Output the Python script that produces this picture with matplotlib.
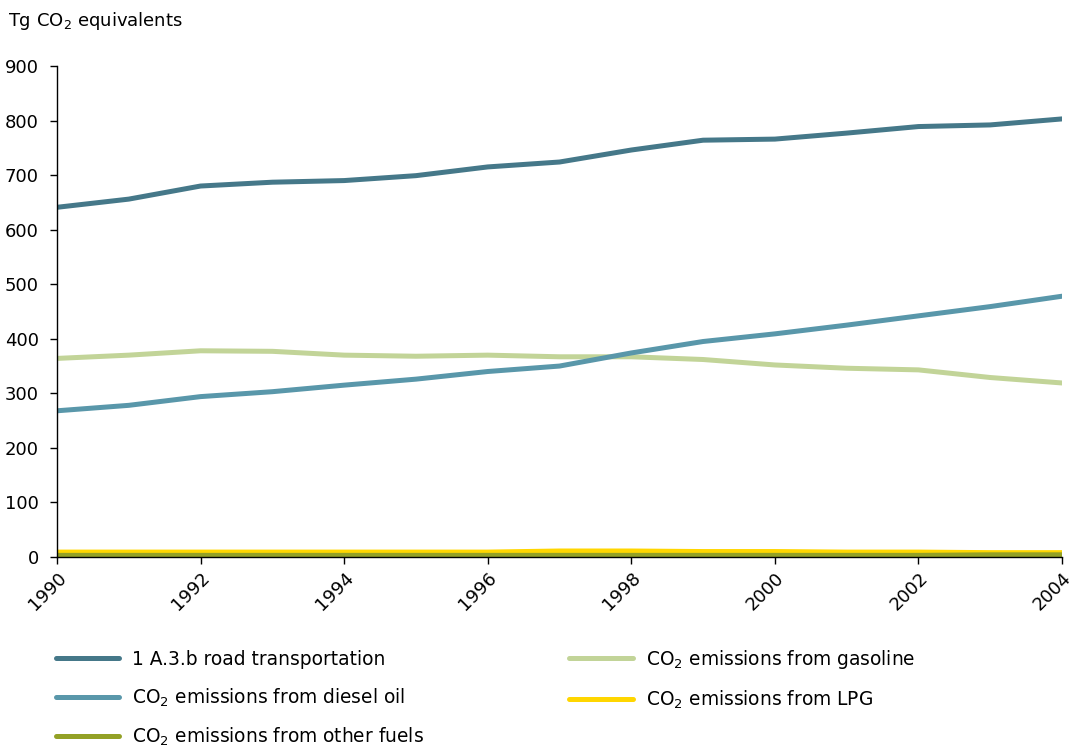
import numpy as np
import matplotlib.pyplot as plt

# Data (Tg CO2 equivalents)
years = list(range(1990, 2005))
road = [641, 656, 680, 687, 690, 699, 715, 724, 746, 764, 766, 777, 789, 792, 803]
gasoline = [364, 370, 378, 377, 370, 368, 370, 367, 367, 362, 352, 346, 343, 329, 319]
diesel = [268, 278, 294, 303, 315, 326, 340, 350, 374, 395, 409, 425, 442, 459, 478]
lpg = [9, 9, 9, 9, 9, 9, 9, 11, 11, 10, 10, 9, 9, 8, 8]
other = [3, 3, 3, 3, 3, 3, 3, 3, 3, 3, 3, 3, 3, 4, 4]

labels = ['1 A.3.b road transportation',
          r'CO$_2$ emissions from gasoline',
          r'CO$_2$ emissions from diesel oil',
          r'CO$_2$ emissions from LPG',
          r'CO$_2$ emissions from other fuels']
colors = ['#457889', '#c2d498', '#5997aa', '#ffd600', '#93a126']

plt.rcParams['font.family'] = ['DejaVu Sans']
fs = 13.0
plt.rcParams['font.size'] = fs

fig = plt.figure(figsize=(10.69, 7.49), dpi=100)
ax = fig.add_axes([57 / 1069, 1 - 557 / 749, (1062 - 57) / 1069, (557 - 66) / 749])

lw = 3.6
h_road, = ax.plot(years, road, color=colors[0], lw=lw, solid_capstyle='round', label=labels[0])
h_gas, = ax.plot(years, gasoline, color=colors[1], lw=lw, solid_capstyle='round', label=labels[1])
h_die, = ax.plot(years, diesel, color=colors[2], lw=lw, solid_capstyle='round', label=labels[2])
h_lpg, = ax.plot(years, lpg, color=colors[3], lw=lw, solid_capstyle='round', label=labels[3])
h_oth, = ax.plot(years, other, color=colors[4], lw=lw, solid_capstyle='round', label=labels[4])

ax.set_xlim(1990, 2004)
ax.set_ylim(0, 900)
ax.set_yticks(range(0, 901, 100))
ax.set_xticks(range(1990, 2005, 2))
ax.tick_params(axis='both', direction='out', length=5, width=1, labelsize=fs, colors='black')
ax.tick_params(axis='y', pad=8)
for lab in ax.get_xticklabels():
    lab.set_rotation(45)
    lab.set_ha('right')
    lab.set_rotation_mode('anchor')
ax.spines['top'].set_visible(False)
ax.spines['right'].set_visible(False)
for s in ['left', 'bottom']:
    ax.spines[s].set_linewidth(1)

fig.text(8 / 1069, 1 - 21 / 749, r'Tg CO$_2$ equivalents', fontsize=fs, va='center', ha='left')

lfs = 13.4
handles = [h_road, h_die, h_oth, h_gas, h_lpg]
fig.legend(handles, [h.get_label() for h in handles], ncol=2, loc='upper left',
           bbox_to_anchor=(56 / 1069, 1 - 648 / 749), frameon=False, borderpad=0,
           borderaxespad=0, handlelength=3.4, handletextpad=0.7, columnspacing=7.8,
           labelspacing=0.93, fontsize=lfs)

fig.savefig('out.png', dpi=100)
